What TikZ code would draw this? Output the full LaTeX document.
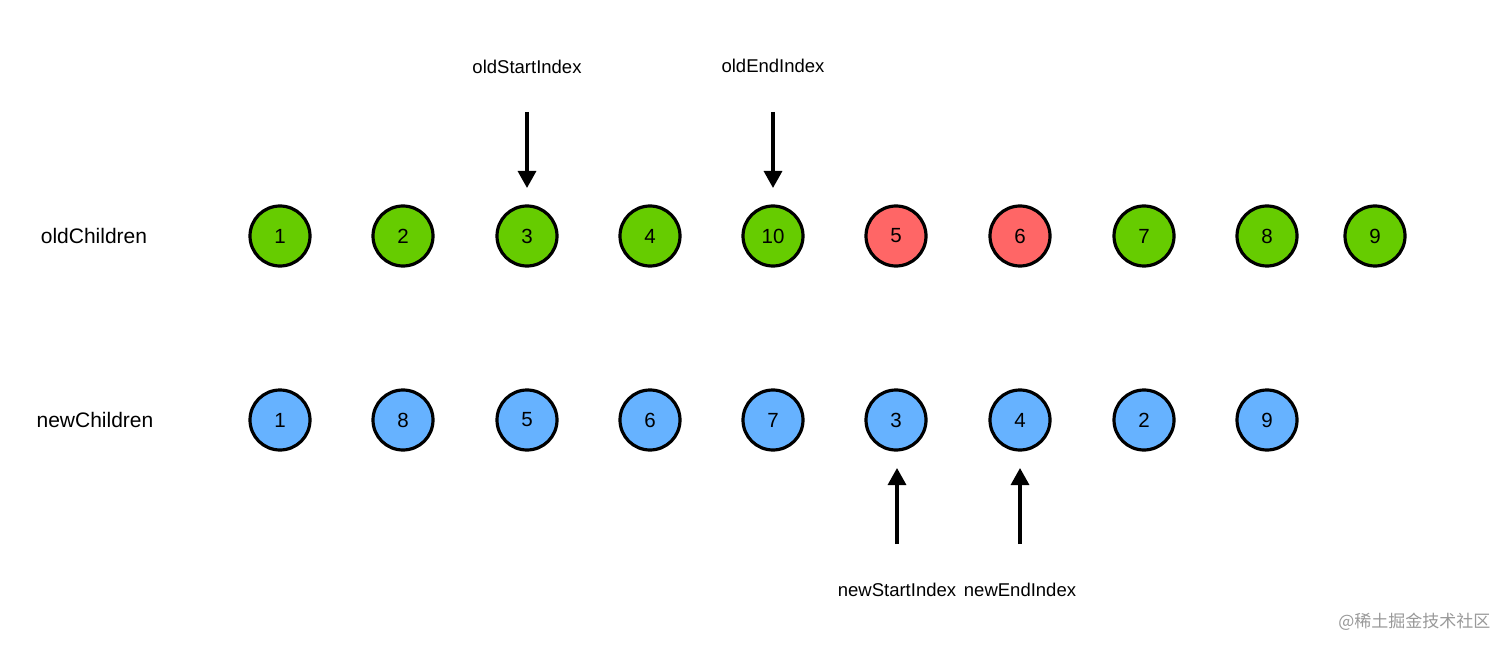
\documentclass[tikz,border=0pt]{standalone}
\usepackage{fontspec}
\setmainfont{Liberation Sans}
\newfontfamily\cjk{Noto Sans CJK SC}
\usetikzlibrary{arrows.meta}
\definecolor{okgreen}{RGB}{102,204,0}
\definecolor{delred}{RGB}{255,102,102}
\definecolor{newblue}{RGB}{102,178,255}
\begin{document}
\begin{tikzpicture}[x=1pt,y=-1pt,
  item/.style={circle,draw=black,line width=3.2pt,minimum size=60pt,inner sep=0pt,font=\fontsize{20.5}{20.5}\selectfont},
  olditem/.style={item,fill=okgreen},
  rmitem/.style={item,fill=delred},
  newitem/.style={item,fill=newblue},
  rowlabel/.style={font=\fontsize{21}{21}\selectfont},
  idxlabel/.style={font=\fontsize{18.5}{18.5}\selectfont},
  pointer/.style={line width=3.2pt,-{Triangle[length=17pt,width=18pt]}}]
\useasboundingbox (0,0) rectangle (1512,652);
\fill[white] (0,0) rectangle (1512,652);
\node[rowlabel] (oldlbl) at (94,236) {oldChildren};
\node[rowlabel] (newlbl) at (95,420) {newChildren};
\node[olditem] (o1) at (280,236) {1};
\node[olditem] (o2) at (403,236) {2};
\node[olditem] (o3) at (527,236) {3};
\node[olditem] (o4) at (650,236) {4};
\node[olditem] (o10) at (773,236) {10};
\node[rmitem] (o5) at (896,236) {5};
\node[rmitem] (o6) at (1020,236) {6};
\node[olditem] (o7) at (1144,236) {7};
\node[olditem] (o8) at (1267,236) {8};
\node[olditem] (o9) at (1375,236) {9};
\node[newitem] (n1) at (280,420) {1};
\node[newitem] (n8) at (403,420) {8};
\node[newitem] (n5) at (527,420) {5};
\node[newitem] (n6) at (650,420) {6};
\node[newitem] (n7) at (773,420) {7};
\node[newitem] (n3) at (896,420) {3};
\node[newitem] (n4) at (1020,420) {4};
\node[newitem] (n2) at (1144,420) {2};
\node[newitem] (n9) at (1267,420) {9};
\node[idxlabel] (osi) at (527,67) {oldStartIndex};
\node[idxlabel] (oei) at (773,66) {oldEndIndex};
\node[idxlabel] (nsi) at (897,590) {newStartIndex};
\node[idxlabel] (nei) at (1020,590) {newEndIndex};
\coordinate (osit) at (527,112);
\coordinate (oeit) at (773,112);
\coordinate (nsit) at (897,544);
\coordinate (neit) at (1020,544);
\coordinate (osih) at (527,188);
\coordinate (oeih) at (773,188);
\coordinate (nsih) at (897,468);
\coordinate (neih) at (1020,468);
\draw[pointer] (osit) -- (osih);
\draw[pointer] (oeit) -- (oeih);
\draw[pointer] (nsit) -- (nsih);
\draw[pointer] (neit) -- (neih);
\node[text=black!40,font=\cjk\fontsize{17}{17}\selectfont,anchor=east] (wm) at (1494,622) {@稀土掘金技术社区};
\end{tikzpicture}
\end{document}
